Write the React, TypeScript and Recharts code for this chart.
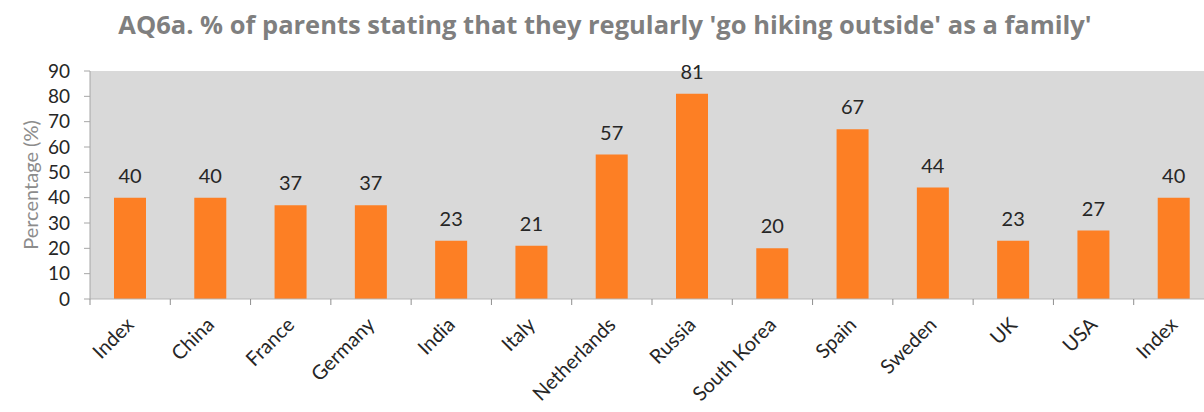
import React from 'react'
import { BarChart, Bar, XAxis, YAxis, CartesianGrid, LabelList } from 'recharts'

const countries = [
  'Index',
  'China',
  'France',
  'Germany',
  'India',
  'Italy',
  'Netherlands',
  'Russia',
  'South Korea',
  'Spain',
  'Sweden',
  'UK',
  'USA',
  'Index',
]
const hikingShare = [40, 40, 37, 37, 23, 21, 57, 81, 20, 67, 44, 23, 27, 40]
const yTicks = [0, 10, 20, 30, 40, 50, 60, 70, 80, 90]

const title = "AQ6a. % of parents stating that they regularly 'go hiking outside' as a family'"

const FONT = 'Lato, "Open Sans", sans-serif'

const data = countries.map((country, i) => ({ country, value: hikingShare[i] }))

// Excel-style axis: tick marks sit between categories, labels are slanted
const CategoryTick = (props: any) => {
  const { x, y, payload, width, visibleTicksCount } = props
  const half =
    width && visibleTicksCount ? width / visibleTicksCount / 2 : payload?.offset || 40
  return (
    <g>
      <path d={`M${x - half},${y}v6`} stroke="#8f8f8f" strokeWidth={1} fill="none" />
      <text
        x={x + 5}
        y={y + 27}
        textAnchor="end"
        transform={`rotate(-45, ${x + 5}, ${y + 27})`}
        fontSize={20}
        fontFamily={FONT}
        fill="#262626"
      >
        {payload.value}
      </text>
    </g>
  )
}

const AxisTitle = (props: any) => {
  const vb = props.viewBox
  const cx = vb.x + 30
  const cy = vb.y + vb.height / 2
  return (
    <text
      x={cx}
      y={cy}
      textAnchor="middle"
      dominantBaseline="central"
      transform={`rotate(-90, ${cx}, ${cy})`}
      fontSize={20}
      fontFamily={FONT}
      fill="#8c8c8c"
    >
      Percentage (%)
    </text>
  )
}

export default function App() {
  return (
    <div
      style={{
        position: 'absolute',
        left: 0,
        top: 0,
        width: 1204,
        height: 412,
        overflow: 'hidden',
        background: '#fff',
      }}
    >
      <div
        style={{
          position: 'absolute',
          left: 0,
          top: 7,
          width: 1210,
          textAlign: 'center',
          fontFamily: '"Open Sans", sans-serif',
          fontWeight: 700,
          fontSize: 25.5,
          lineHeight: '34px',
          color: '#7f7f7f',
        }}
      >
        {title}
      </div>
      <BarChart
        width={1230}
        height={412}
        data={data}
        margin={{ top: 71, right: 16, left: 0, bottom: 0 }}
        barCategoryGap={24}
      >
        <CartesianGrid fill="#d9d9d9" horizontal={false} vertical={false} stroke="none" />
        <XAxis
          dataKey="country"
          height={113}
          interval={0}
          tickSize={0}
          tickMargin={0}
          stroke="#b5b5b5"
          tick={<CategoryTick />}
        />
        <YAxis
          domain={[0, 90]}
          ticks={yTicks}
          interval={0}
          width={90}
          tickSize={6}
          tickMargin={14}
          stroke="#a6a6a6"
          tick={{ fill: '#262626', fontSize: 19, fontFamily: FONT }}
          label={{ position: 'center', content: <AxisTitle /> }}
        />
        <Bar dataKey="value" fill="#fd7f24" isAnimationActive={false}>
          <LabelList
            dataKey="value"
            position="top"
            offset={15}
            fill="#262626"
            fontSize={20}
            fontFamily={FONT}
          />
        </Bar>
      </BarChart>
    </div>
  )
}
